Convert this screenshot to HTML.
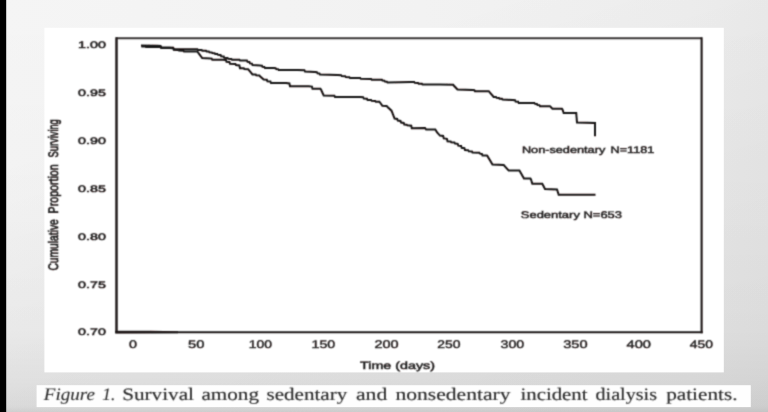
<!DOCTYPE html>
<html>
<head>
<meta charset="utf-8">
<title>Figure 1. Survival among sedentary and nonsedentary incident dialysis patients</title>
<style>
html,body{margin:0;padding:0;}
body{width:768px;height:412px;overflow:hidden;background:#e6e6e6;font-family:"Liberation Sans",sans-serif;}
svg{display:block;}
text{text-rendering:geometricPrecision;}
.ax{font-family:"Liberation Sans",sans-serif;font-size:9.5px;fill:#1c1818;stroke:#1c1818;stroke-width:0.45px;}
.sl{font-size:9.6px;stroke-width:0.42px;}
.yt{font-size:10px;stroke-width:0.5px;}
.xl{font-size:11px;stroke-width:0.38px;}
.cap{font-family:"Liberation Serif",serif;font-size:17.5px;fill:#2a2a2a;stroke:#2a2a2a;stroke-width:0.15px;}
.cap .it{font-style:italic;stroke-width:0.08px;}
</style>
</head>
<body>
<svg width="768" height="412" viewBox="0 0 768 412">
  <defs>
    <linearGradient id="bg" x1="0" y1="0" x2="1" y2="0">
      <stop offset="0" stop-color="#f5f5f5"/>
      <stop offset="0.55" stop-color="#f2f2f2"/>
      <stop offset="0.9" stop-color="#eeeeee"/>
      <stop offset="1" stop-color="#ebebeb"/>
    </linearGradient>
    <linearGradient id="bot" x1="0" y1="0" x2="0" y2="1">
      <stop offset="0" stop-color="#000" stop-opacity="0"/>
      <stop offset="0.5" stop-color="#000" stop-opacity="0.012"/>
      <stop offset="0.8" stop-color="#000" stop-opacity="0.03"/>
      <stop offset="0.92" stop-color="#000" stop-opacity="0.06"/>
      <stop offset="0.985" stop-color="#000" stop-opacity="0.085"/>
      <stop offset="1" stop-color="#000" stop-opacity="0.125"/>
    </linearGradient>
    <linearGradient id="br" x1="0.45" y1="0.1" x2="1" y2="1">
      <stop offset="0" stop-color="#000" stop-opacity="0"/>
      <stop offset="0.5" stop-color="#000" stop-opacity="0.03"/>
      <stop offset="1" stop-color="#000" stop-opacity="0.045"/>
    </linearGradient>
    <filter id="soft" filterUnits="userSpaceOnUse" x="0" y="0" width="768" height="412">
      <feConvolveMatrix order="3" kernelMatrix="0.0277 0.1110 0.0277 0.1110 0.4452 0.1110 0.0277 0.1110 0.0277" divisor="1" edgeMode="none" preserveAlpha="false"/>
    </filter>
    <filter id="soft2" filterUnits="userSpaceOnUse" x="0" y="0" width="768" height="412">
      <feConvolveMatrix order="3" kernelMatrix="0.0361 0.1178 0.0361 0.1178 0.3846 0.1178 0.0361 0.1178 0.0361" divisor="1" edgeMode="none" preserveAlpha="false"/>
    </filter>
  </defs>

  <!-- background -->
  <rect x="0" y="0" width="768" height="412" fill="url(#bg)"/>
  <rect x="0" y="0" width="768" height="412" fill="url(#bot)"/>
  <rect x="0" y="0" width="768" height="412" fill="url(#br)"/>
  <!-- left black bar -->
  <rect x="0" y="0" width="6.2" height="412" fill="#000"/>

  <!-- white figure panel -->
  <rect x="44.4" y="27.8" width="679.4" height="344.6" fill="#ffffff"/>
  <!-- caption strip -->
  <rect x="36.6" y="385.2" width="714.2" height="21.9" fill="#fefefe"/>

  <!-- chart frame -->
  <g filter="url(#soft)">
    <path d="M116,38.25 H701.6" fill="none" stroke="#3a3636" stroke-width="2"/>
    <path d="M701.6,37.3 V333.2" fill="none" stroke="#1a1212" stroke-width="2.1"/>
    <path d="M116.5,37.3 V332.3" fill="none" stroke="#241e1e" stroke-width="2.5"/>
    <path d="M115.3,332.3 H702.6" fill="none" stroke="#1e1818" stroke-width="2"/>
    <path d="M115.3,330.8 H150 L178,331.3 V333.3 L115.3,333.5 Z" fill="#1e1818" stroke="none"/>
  </g>

  <!-- survival curves -->
  <g filter="url(#soft)" fill="none" stroke="#181212" stroke-width="2" stroke-linejoin="miter">
    <path d="M141.0,45.6 L156.8,45.7 L160.6,46.0 L161.2,47.4 L169.4,47.4 L173.2,47.7 L173.8,49.2 L191.5,49.2 L197.4,49.3 L198.0,49.9 L201.7,50.0 L202.3,50.7 L206.0,50.8 L206.6,51.5 L208.8,51.6 L209.4,52.3 L211.7,52.4 L212.3,53.1 L214.6,53.3 L215.2,54.0 L217.4,54.1 L218.0,54.8 L220.6,55.0 L221.2,56.3 L223.7,56.5 L224.3,57.8 L227.6,57.9 L228.2,58.8 L231.4,58.9 L232.0,59.7 L239.4,59.8 L240.0,60.4 L246.9,60.6 L247.5,61.7 L249.4,61.9 L250.0,63.4 L251.9,63.6 L252.5,65.0 L260.0,65.5 L261.9,65.7 L262.5,66.8 L264.4,66.9 L265.0,68.0 L273.7,68.0 L275.6,68.2 L276.2,69.0 L278.1,69.2 L278.7,70.0 L297.5,70.0 L304.4,70.2 L305.0,71.5 L315.0,72.0 L316.9,72.2 L317.5,73.2 L319.4,73.4 L320.0,74.5 L337.5,75.0 L341.1,75.2 L341.7,76.0 L345.2,76.2 L345.8,77.0 L349.4,77.2 L350.0,78.0 L360.2,78.1 L360.8,78.8 L371.1,79.0 L371.7,79.7 L381.9,79.8 L382.5,80.5 L384.4,80.7 L385.0,81.5 L386.9,81.7 L387.5,82.5 L411.0,82.0 L414.2,82.1 L414.8,82.8 L418.1,83.0 L418.7,83.7 L421.9,83.8 L422.5,84.5 L440.0,84.5 L453.1,84.7 L453.7,85.5 L457.5,89.5 L472.5,90.0 L474.4,90.2 L475.0,91.2 L488.7,91.2 L493.7,97.0 L496.0,97.1 L496.6,97.8 L499.0,98.0 L499.6,98.7 L501.9,98.8 L502.5,99.5 L512.5,100.0 L515.0,100.2 L515.6,101.5 L518.1,101.7 L518.7,103.0 L534.4,103.1 L535.0,103.7 L536.9,103.9 L537.5,105.0 L539.4,105.1 L540.0,106.2 L550.0,106.2 L552.5,108.7 L561.9,108.8 L562.5,109.5 L563.7,113.0 L576.2,113.0 L577.0,122.5 L595.0,123.0 L595.0,136.2"/>
    <path d="M141.3,46.4 L145.0,46.4 L146.0,47.0 L156.8,47.0 L160.6,47.1 L161.2,48.0 L169.4,48.0 L173.2,48.3 L173.8,49.8 L178.3,49.9 L178.9,50.6 L183.4,50.7 L184.0,51.4 L191.5,51.4 L197.2,51.5 L197.8,52.1 L202.2,58.1 L210.4,58.4 L211.7,58.6 L212.3,59.7 L223.0,59.7 L225.9,60.0 L226.5,61.7 L229.4,62.0 L230.0,63.7 L235.4,63.9 L236.0,65.0 L239.4,65.5 L240.0,68.2 L243.8,68.3 L244.3,69.1 L248.1,69.2 L248.7,70.0 L252.5,74.5 L255.7,74.6 L256.2,75.3 L259.4,75.5 L260.0,76.2 L263.7,79.5 L266.8,79.8 L267.4,81.2 L270.4,81.5 L271.0,83.0 L286.0,83.0 L289.4,83.5 L290.0,86.2 L308.7,86.2 L311.9,86.6 L312.5,88.7 L320.4,88.8 L321.0,89.5 L323.7,95.5 L334.4,95.7 L335.0,97.0 L360.0,97.0 L363.1,97.2 L363.8,98.5 L366.9,98.7 L367.5,100.0 L371.1,100.1 L371.7,100.8 L375.2,101.0 L375.8,101.7 L379.4,101.8 L380.0,102.5 L382.4,105.8 L386.7,106.0 L387.3,106.8 L391.5,110.7 L394.6,118.6 L397.2,118.9 L397.8,120.6 L400.5,120.9 L401.1,122.6 L403.7,122.9 L404.3,124.6 L406.7,124.7 L407.3,125.2 L411.2,125.7 L411.8,128.3 L425.0,127.9 L426.2,129.5 L435.3,129.5 L437.1,132.5 L440.0,135.6 L443.1,136.0 L443.8,138.4 L446.9,138.8 L447.5,141.2 L450.6,141.4 L451.2,142.3 L454.4,142.5 L455.0,143.5 L457.7,143.8 L458.3,145.7 L461.1,146.0 L461.7,147.8 L464.4,148.2 L465.0,150.0 L468.1,150.2 L468.8,151.2 L471.9,151.4 L472.5,152.5 L479.4,152.7 L480.0,153.7 L481.9,154.0 L482.5,155.5 L486.9,155.6 L487.5,156.2 L492.5,164.5 L503.7,165.0 L508.7,170.6 L519.4,170.6 L524.0,178.4 L530.4,178.6 L531.0,179.5 L532.3,183.7 L542.2,183.8 L542.8,184.7 L545.0,189.0 L557.0,189.4 L558.7,194.8 L595.5,194.8"/>
  </g>

  <!-- y-axis tick labels -->
  <g class="ax" filter="url(#soft2)">
    <text x="78.1" y="48.4" textLength="27.8" lengthAdjust="spacingAndGlyphs">1.00</text>
    <text x="78.1" y="96.2" textLength="27.8" lengthAdjust="spacingAndGlyphs">0.95</text>
    <text x="78.1" y="144.1" textLength="27.8" lengthAdjust="spacingAndGlyphs">0.90</text>
    <text x="78.1" y="191.9" textLength="27.8" lengthAdjust="spacingAndGlyphs">0.85</text>
    <text x="78.1" y="239.7" textLength="27.8" lengthAdjust="spacingAndGlyphs">0.80</text>
    <text x="78.1" y="287.6" textLength="27.8" lengthAdjust="spacingAndGlyphs">0.75</text>
    <text x="78.1" y="335.4" textLength="27.8" lengthAdjust="spacingAndGlyphs">0.70</text>
  </g>

  <!-- x-axis tick labels -->
  <g class="ax xl" filter="url(#soft2)">
    <text x="128.9" y="348" textLength="8.0" lengthAdjust="spacingAndGlyphs">0</text>
    <text x="188.1" y="348" textLength="16.4" lengthAdjust="spacingAndGlyphs">50</text>
    <text x="248.7" y="348" textLength="23.2" lengthAdjust="spacingAndGlyphs">100</text>
    <text x="311.5" y="348" textLength="23.7" lengthAdjust="spacingAndGlyphs">150</text>
    <text x="374.4" y="348" textLength="24.1" lengthAdjust="spacingAndGlyphs">200</text>
    <text x="437.3" y="348" textLength="23.2" lengthAdjust="spacingAndGlyphs">250</text>
    <text x="500.5" y="348" textLength="23.7" lengthAdjust="spacingAndGlyphs">300</text>
    <text x="563.2" y="348" textLength="24.3" lengthAdjust="spacingAndGlyphs">350</text>
    <text x="626.5" y="348" textLength="24.4" lengthAdjust="spacingAndGlyphs">400</text>
    <text x="689.7" y="348" textLength="23.2" lengthAdjust="spacingAndGlyphs">450</text>
  </g>

  <!-- axis titles -->
  <g class="ax" filter="url(#soft2)">
    <text x="360" y="368.7" textLength="75" style="font-size:10.4px" lengthAdjust="spacingAndGlyphs">Time (days)</text>
    <text class="yt" transform="translate(58.4,270.6) scale(1.38,1) rotate(-90)" textLength="51.4" lengthAdjust="spacingAndGlyphs">Cumulative</text>
    <text class="yt" transform="translate(58.4,213.4) scale(1.38,1) rotate(-90)" textLength="49.1" lengthAdjust="spacingAndGlyphs">Proportion</text>
    <text class="yt" transform="translate(58.4,157.4) scale(1.38,1) rotate(-90)" textLength="38.2" lengthAdjust="spacingAndGlyphs">Surviving</text>
  </g>

  <!-- series labels -->
  <g class="ax sl" filter="url(#soft2)">
    <text x="521.9" y="153.3" textLength="83.4" lengthAdjust="spacingAndGlyphs">Non-sedentary</text>
    <text x="610.6" y="153.3" textLength="43.6" lengthAdjust="spacingAndGlyphs">N=1181</text>
    <text x="520.8" y="218.3" textLength="101.2" lengthAdjust="spacingAndGlyphs">Sedentary N=653</text>
  </g>

  <!-- caption -->
  <g class="cap" filter="url(#soft2)">
    <text x="43.8" y="400.2" textLength="51.2" lengthAdjust="spacingAndGlyphs" class="it">Figure</text>
    <text x="102.3" y="400.2" textLength="13.1" lengthAdjust="spacingAndGlyphs" class="it">1.</text>
    <text x="122.2" y="400.2" textLength="71.8" lengthAdjust="spacingAndGlyphs">Survival</text>
    <text x="201.5" y="400.2" textLength="57.5" lengthAdjust="spacingAndGlyphs">among</text>
    <text x="266.5" y="400.2" textLength="80.7" lengthAdjust="spacingAndGlyphs">sedentary</text>
    <text x="356.0" y="400.2" textLength="31.2" lengthAdjust="spacingAndGlyphs">and</text>
    <text x="395.5" y="400.2" textLength="115.0" lengthAdjust="spacingAndGlyphs">nonsedentary</text>
    <text x="520.5" y="400.2" textLength="67.0" lengthAdjust="spacingAndGlyphs">incident</text>
    <text x="595.5" y="400.2" textLength="61.5" lengthAdjust="spacingAndGlyphs">dialysis</text>
    <text x="666.2" y="400.2" textLength="71.3" lengthAdjust="spacingAndGlyphs">patients.</text>
  </g>
</svg>
</body>
</html>
